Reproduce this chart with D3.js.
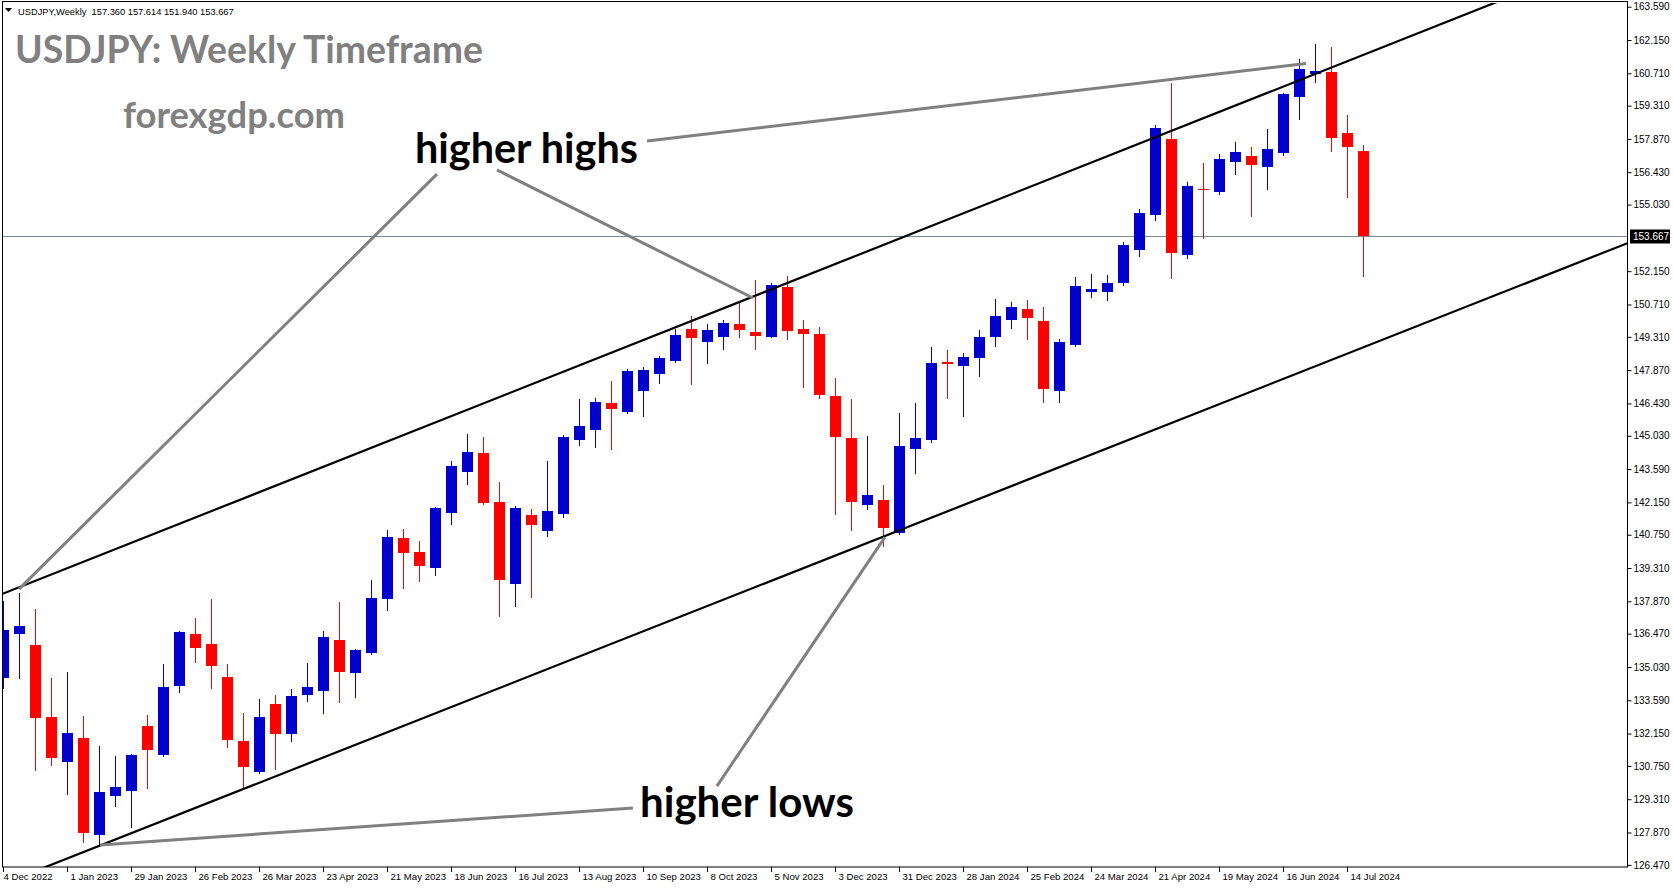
<!DOCTYPE html>
<html><head><meta charset="utf-8">
<script src="https://cdn.jsdelivr.net/npm/d3@7"></script>
<style>html,body{margin:0;padding:0;background:#fff;overflow:hidden}svg{display:block}</style>
</head><body><svg id="c" width="1673" height="888"></svg>
<script>
// ---- data ----
const dates = ["2022-12-04","2022-12-11","2022-12-18","2022-12-25","2023-01-01","2023-01-08","2023-01-15","2023-01-22","2023-01-29","2023-02-05",
"2023-02-12","2023-02-19","2023-02-26","2023-03-05","2023-03-12","2023-03-19","2023-03-26","2023-04-02","2023-04-09","2023-04-16",
"2023-04-23","2023-04-30","2023-05-07","2023-05-14","2023-05-21","2023-05-28","2023-06-04","2023-06-11","2023-06-18","2023-06-25",
"2023-07-02","2023-07-09","2023-07-16","2023-07-23","2023-07-30","2023-08-06","2023-08-13","2023-08-20","2023-08-27","2023-09-03",
"2023-09-10","2023-09-17","2023-09-24","2023-10-01","2023-10-08","2023-10-15","2023-10-22","2023-10-29","2023-11-05","2023-11-12",
"2023-11-19","2023-11-26","2023-12-03","2023-12-10","2023-12-17","2023-12-24","2023-12-31","2024-01-07","2024-01-14","2024-01-21",
"2024-01-28","2024-02-04","2024-02-11","2024-02-18","2024-02-25","2024-03-03","2024-03-10","2024-03-17","2024-03-24","2024-03-31",
"2024-04-07","2024-04-14","2024-04-21","2024-04-28","2024-05-05","2024-05-12","2024-05-19","2024-05-26","2024-06-02","2024-06-09",
"2024-06-16","2024-06-23","2024-06-30","2024-07-07","2024-07-14","2024-07-21"];
const open = [134.54,136.47,135.98,132.87,130.93,131.96,127.78,129.46,129.68,132.48,
131.24,134.22,136.46,136.02,134.60,131.83,130.50,133.43,132.15,133.83,
134.01,136.20,134.78,135.65,137.98,140.61,140.00,139.33,141.70,143.48,
144.29,142.17,138.62,141.60,140.91,141.65,144.85,145.28,146.45,146.06,
146.98,147.72,148.28,149.65,149.10,149.32,149.87,149.52,149.32,151.47,
149.65,149.43,146.75,144.94,142.05,142.25,140.83,144.47,144.85,148.24,
148.06,148.40,149.30,150.04,150.52,150.00,146.98,148.97,151.25,151.26,
151.65,153.08,154.59,157.87,152.86,155.71,155.59,156.89,157.13,156.67,
157.28,159.70,160.69,160.77,158.13,157.36];
const high = [137.89,138.22,137.54,134.55,134.81,132.91,131.63,131.18,131.27,132.95,
135.16,136.60,137.15,137.97,135.16,133.04,133.65,133.82,134.08,135.20,
136.60,137.84,135.81,138.79,140.96,141.00,140.48,141.96,143.94,145.11,
144.98,143.03,141.99,141.86,143.94,145.07,146.62,146.67,147.40,147.92,
148.01,148.47,149.65,150.21,149.87,150.04,150.83,151.77,151.64,151.94,
150.04,149.74,147.53,146.62,145.02,142.90,146.02,146.45,148.87,148.74,
148.61,149.61,150.95,150.82,150.90,150.60,149.22,151.90,152.03,151.99,
153.41,154.84,158.47,160.29,156.01,156.83,157.22,157.74,157.52,158.30,
159.86,161.33,161.98,161.85,158.91,157.614];
const low = [134.14,134.54,130.58,130.80,129.55,127.47,127.32,129.03,128.12,129.80,
131.20,133.96,135.26,134.14,131.58,129.75,130.43,130.63,131.84,133.57,
133.05,133.53,133.75,135.60,137.50,138.46,138.75,139.01,141.22,142.95,
142.08,137.24,137.67,138.06,140.70,141.52,144.63,144.55,144.46,146.03,
145.90,147.33,148.24,147.28,148.19,148.80,149.32,148.80,149.30,149.23,
147.15,146.68,141.66,140.97,141.88,140.28,140.80,143.43,144.76,146.68,
145.90,147.62,148.91,149.69,149.22,146.51,146.51,148.93,151.03,150.90,
151.57,152.82,154.38,151.87,152.73,153.60,155.50,156.37,154.55,155.72,
157.19,158.75,160.35,157.36,155.37,151.94];
const close = [136.63,136.80,132.84,131.11,132.18,127.86,129.62,129.84,131.22,131.45,
134.17,136.54,135.87,135.09,131.89,130.72,132.87,132.15,133.78,134.17,
136.33,134.83,135.77,138.02,140.65,139.97,139.41,141.91,143.72,144.33,
142.12,138.79,141.91,141.17,141.78,144.98,145.45,146.49,146.20,147.83,
147.88,148.40,149.39,149.27,149.61,149.91,149.62,149.36,151.55,149.58,
149.45,146.81,144.99,142.18,142.47,141.06,144.59,144.94,148.18,148.15,
148.44,149.30,150.21,150.60,150.13,147.07,149.09,151.51,151.38,151.64,
153.28,154.67,158.34,152.95,155.83,155.68,157.00,157.31,156.76,157.44,
159.81,160.90,160.81,157.92,157.54,153.667];
const priceTicks = [163.590,162.150,160.710,159.310,157.870,156.430,155.030,152.150,150.710,149.310,147.870,146.430,145.030,143.590,142.150,140.750,139.310,137.870,136.470,135.030,133.590,132.150,130.750,129.310,127.870,126.470];
const dateTickIdx = [0,4,8,12,16,20,24,28,32,36,40,44,48,52,56,60,64,68,72,76,80,84];
const dateTickLabels = ["4 Dec 2022","1 Jan 2023","29 Jan 2023","26 Feb 2023","26 Mar 2023","23 Apr 2023","21 May 2023","18 Jun 2023","16 Jul 2023","13 Aug 2023","10 Sep 2023","8 Oct 2023","5 Nov 2023","3 Dec 2023","31 Dec 2023","28 Jan 2024","25 Feb 2024","24 Mar 2024","21 Apr 2024","19 May 2024","16 Jun 2024","14 Jul 2024"];
const lastPrice = 153.667;
const headerText = "USDJPY,Weekly  157.360 157.614 151.940 153.667";
// channel lines (bar index, price)
const channelUpper = [[0,138.21],[85,161.51]];
const channelLower = [[0,125.66],[85,148.86]];
// pointer lines (bar index, price)
const pointers = [
  [[27.09,156.35],[0.97,138.40]],
  [[30.84,156.53],[46.84,150.99]],
  [[40.22,157.78],[81.41,161.13]],
  [[44.59,129.88],[55.09,140.65]],
  [[39.34,128.93],[6.04,127.33]]
];

// ---- layout ----
const W = 1673, H = 888;
const plotL = 2, plotT = 2, plotR = 1627, plotB = 867;
const svg = d3.select("#c");
svg.append("rect").attr("width", W).attr("height", H).attr("fill", "#fff");

const x = d3.scaleLinear().domain([0, 85]).range([3.5, 1363.5]);
const y = d3.scaleLinear().domain([163.88, 126.43]).range([0, 865.8]);

svg.append("clipPath").attr("id", "clip").append("rect")
  .attr("x", plotL + 1).attr("y", plotT + 1).attr("width", plotR - plotL - 1).attr("height", plotB - plotT - 1);
const g = svg.append("g").attr("clip-path", "url(#clip)");

// bid line
g.append("line").attr("x1", plotL).attr("x2", plotR)
  .attr("y1", Math.round(y(lastPrice)) + 0.5).attr("y2", Math.round(y(lastPrice)) + 0.5)
  .attr("stroke", "#7d8a96").attr("stroke-width", 1);

// candles
const blue = "#0000cd", red = "#ff0000";
const bars = d3.range(dates.length).map(i => ({i, o: open[i], h: high[i], l: low[i], c: close[i]}));
const cg = g.append("g");
bars.forEach(d => {
  const col = d.c >= d.o ? blue : red;
  const cx = Math.floor(x(d.i));
  const yh = Math.round(y(d.h)), yl = Math.round(y(d.l));
  cg.append("rect").attr("x", cx).attr("y", yh).attr("width", 1).attr("height", Math.max(1, yl - yh + 1)).attr("fill", col);
  const yt = Math.round(y(Math.max(d.o, d.c))), yb = Math.round(y(Math.min(d.o, d.c)));
  cg.append("rect").attr("x", cx - 5).attr("y", yt).attr("width", 11).attr("height", Math.max(1, yb - yt)).attr("fill", col);
});

// channel lines (extended rays)
function extend(pts, a, b) {
  const [[i0, p0], [i1, p1]] = pts;
  const s = (p1 - p0) / (i1 - i0);
  return [[a, p0 + s * (a - i0)], [b, p0 + s * (b - i0)]];
}
[channelUpper, channelLower].forEach(pts => {
  const e = extend(pts, -2, 110);
  g.append("line").attr("x1", x(e[0][0])).attr("y1", y(e[0][1]))
    .attr("x2", x(e[1][0])).attr("y2", y(e[1][1]))
    .attr("stroke", "#000").attr("stroke-width", 2.2);
});

// pointer lines
pointers.forEach(pts => {
  g.append("line").attr("x1", x(pts[0][0])).attr("y1", y(pts[0][1]))
    .attr("x2", x(pts[1][0])).attr("y2", y(pts[1][1]))
    .attr("stroke", "#808080").attr("stroke-width", 3);
});

// frame
svg.append("rect").attr("x", plotL + 0.5).attr("y", plotT - 0.5).attr("width", plotR - plotL).attr("height", plotB - plotT + 0.5)
  .attr("fill", "none").attr("stroke", "#000").attr("stroke-width", 1);

// right axis
const axisFont = "'Liberation Sans', Arial, sans-serif";
const ra = svg.append("g").attr("transform", `translate(${plotR + 0.5},0)`)
  .call(d3.axisRight(y).tickValues(priceTicks).tickFormat(d3.format(".3f")).tickSize(4).tickPadding(2));
ra.select(".domain").remove();
ra.selectAll("line").attr("stroke", "#000");
ra.selectAll("text").attr("font-family", axisFont).attr("font-size", "10px").attr("fill", "#000");

// last price box
const ly = Math.round(y(lastPrice)) + 0.5;
svg.append("rect").attr("x", plotR + 3).attr("y", ly - 7).attr("width", 40).attr("height", 14).attr("fill", "#000");
svg.append("text").attr("x", plotR + 6).attr("y", ly).attr("dy", "0.34em")
  .attr("font-family", axisFont).attr("font-size", "10px").attr("fill", "#fff").text(lastPrice.toFixed(3));

// bottom axis
const ba = svg.append("g").attr("transform", `translate(0,${plotB})`)
  .call(d3.axisBottom(x).tickValues(dateTickIdx).tickFormat((d, k) => dateTickLabels[k]).tickSize(5).tickPadding(1));
ba.select(".domain").remove();
ba.selectAll(".tick").attr("transform", d => `translate(${Math.floor(x(d)) + 0.5},0)`);
ba.selectAll("line").attr("stroke", "#000");
ba.selectAll("text").attr("font-family", axisFont).attr("font-size", "9.6px").attr("fill", "#000")
  .attr("text-anchor", "start").attr("x", (d, k) => k === 0 ? 0 : 3);

// header
svg.append("path").attr("d", "M5,8 L12,8 L8.5,12 Z").attr("fill", "#000");
svg.append("text").attr("x", 18).attr("y", 14.5).attr("font-family", axisFont).attr("font-size", "9.3px")
  .attr("fill", "#000").attr("xml:space", "preserve").style("white-space", "pre").text(headerText);

// annotation texts
const annFont = "Lato, 'Open Sans', sans-serif";
function fitText(x0, x1, baseline, str, fs, color) {
  const t = svg.append("text").attr("x", x0).attr("y", baseline).attr("font-family", annFont)
    .attr("font-weight", 700).attr("font-size", fs).attr("fill", color).text(str);
  const w = t.node().getComputedTextLength();
  t.attr("font-size", fs * (x1 - x0) / w);
  return t;
}
fitText(15, 483, 63, "USDJPY: Weekly Timeframe", 38, "#808080");
fitText(123, 345, 128, "forexgdp.com", 32, "#808080");
fitText(415, 638, 163, "higher highs", 40, "#000");
fitText(640, 854, 817, "higher lows", 40, "#000");
</script></body></html>
